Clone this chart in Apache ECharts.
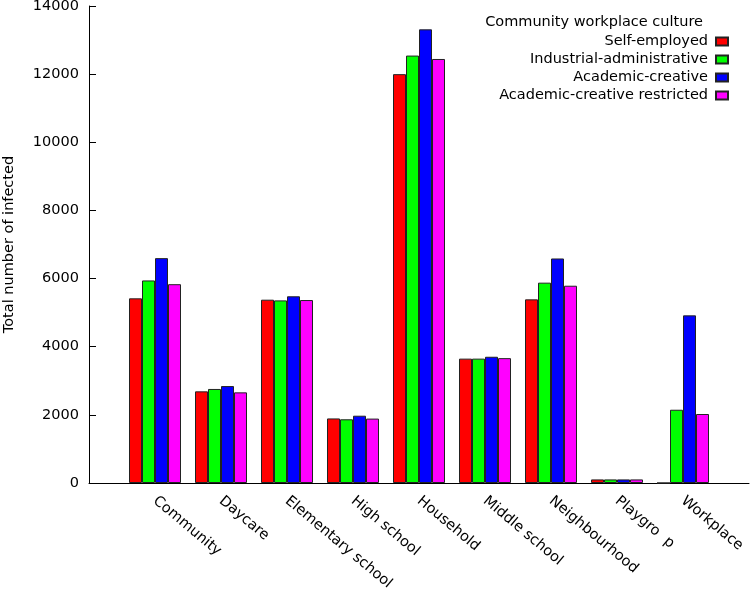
<!DOCTYPE html>
<html>
<head>
<meta charset="utf-8">
<script src="https://cdn.jsdelivr.net/npm/echarts@6/dist/echarts.min.js"></script>
<style>html,body{margin:0;padding:0;background:#fff}#c{width:750px;height:591px}</style>
</head>
<body>
<div id="c"></div>
<script>
const categories = ["Community","Daycare","Elementary school","High school","Household","Middle school","Neighbourhood","Playgro  p","Workplace"];
const selfEmployed = [5420, 2690, 5380, 1895, 12000, 3650, 5390, 105, 0];
const industrialAdmin = [5945, 2760, 5360, 1870, 12545, 3650, 5880, 105, 2150];
const academicCreative = [6600, 2845, 5480, 1975, 13315, 3705, 6590, 105, 4920];
const academicRestricted = [5835, 2660, 5370, 1890, 12445, 3665, 5790, 105, 2025];
const yTicks = [0, 2000, 4000, 6000, 8000, 10000, 12000, 14000];
const seriesNames = ["Self-employed","Industrial-administrative","Academic-creative","Academic-creative restricted"];
const colors = ["#ff0000","#00ff00","#0000ff","#ff00ff"];

const pad = a => [null].concat(a, [null]);
const cats = [""].concat(categories, [""]);
const font = "DejaVu Sans, Verdana, sans-serif";
const fs = 14.5;
const chart = echarts.init(document.getElementById('c'));
const datas = [selfEmployed, industrialAdmin, academicCreative, academicRestricted];
chart.setOption({
  animation: false,
  textStyle: {fontFamily: font, color: '#000'},
  title: {
    text: "Community workplace culture",
    right: 47, top: 15, padding: 0,
    textStyle: {fontFamily: font, fontSize: fs, fontWeight: 'normal', color: '#000'}
  },
  legend: {
    orient: 'vertical', right: 21, top: 34, padding: 0,
    align: 'right', itemWidth: 12, itemHeight: 8, itemGap: 3,
    icon: 'rect',
    textStyle: {fontFamily: font, fontSize: fs, color: '#000', padding: [0, 3, 0, 0]},
    data: seriesNames
  },
  grid: {left: 89, right: 1, top: 6, bottom: 108, containLabel: false, outerBoundsMode: 'none'},
  xAxis: {
    type: 'category', data: cats, boundaryGap: false,
    axisLine: {lineStyle: {color: '#000', width: 1}},
    axisTick: {show: false},
    axisLabel: {rotate: -40, interval: 0, fontSize: fs, fontFamily: font, color: '#000', margin: 16}
  },
  yAxis: {
    type: 'value', min: 0, max: 14000, interval: 2000,
    name: "Total number of infected", nameLocation: 'middle', nameGap: 72,
    nameTextStyle: {fontFamily: font, fontSize: fs, color: '#000'},
    axisLine: {show: true, lineStyle: {color: '#000', width: 1}},
    axisTick: {show: true, inside: true, length: 7, lineStyle: {color: '#000'}},
    axisLabel: {fontSize: fs, fontFamily: font, color: '#000', margin: 10,
      formatter: v => yTicks.includes(v) ? String(v) : ''},
    splitLine: {show: false}
  },
  series: seriesNames.map((n, i) => ({
    name: n, type: 'bar', data: pad(datas[i]),
    barWidth: 13, barGap: '0%',
    itemStyle: {color: colors[i], borderColor: '#222', borderWidth: 1}
  }))
});
</script>
</body>
</html>
